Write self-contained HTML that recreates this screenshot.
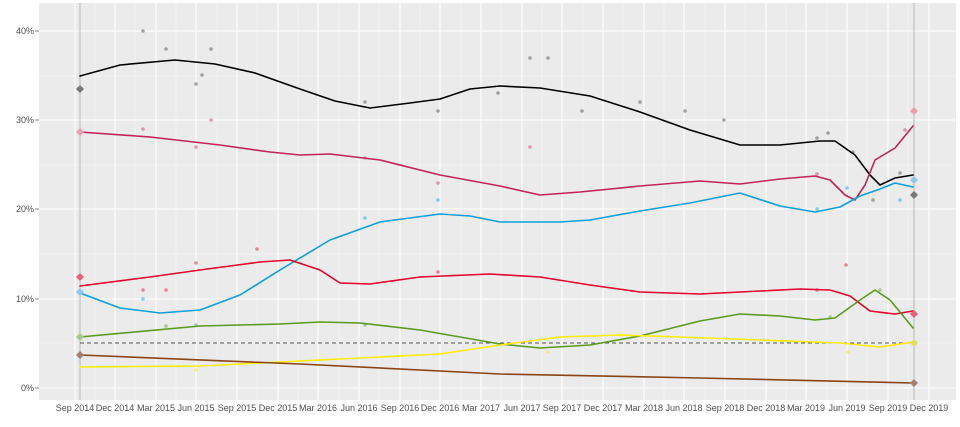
<!DOCTYPE html>
<html><head><meta charset="utf-8"><style>body{margin:0;background:#fff}svg{display:block}text{font-family:"Liberation Sans",sans-serif;font-size:9px;fill:#4d4d4d}</style></head><body>
<svg width="960" height="427" viewBox="0 0 960 427">
<rect x="39" y="3" width="917" height="397" fill="#ebebeb"/>
<g stroke="#f5f5f5" stroke-width="0.6">
<line x1="39" x2="956" y1="76" y2="76"/><line x1="39" x2="956" y1="165" y2="165"/><line x1="39" x2="956" y1="254" y2="254"/><line x1="39" x2="956" y1="343" y2="343"/>
<line x1="95" x2="95" y1="3" y2="400"/><line x1="135" x2="135" y1="3" y2="400"/><line x1="176" x2="176" y1="3" y2="400"/><line x1="217" x2="217" y1="3" y2="400"/><line x1="257" x2="257" y1="3" y2="400"/><line x1="298" x2="298" y1="3" y2="400"/><line x1="339" x2="339" y1="3" y2="400"/><line x1="379" x2="379" y1="3" y2="400"/><line x1="420" x2="420" y1="3" y2="400"/><line x1="461" x2="461" y1="3" y2="400"/><line x1="501" x2="501" y1="3" y2="400"/><line x1="542" x2="542" y1="3" y2="400"/><line x1="583" x2="583" y1="3" y2="400"/><line x1="623" x2="623" y1="3" y2="400"/><line x1="664" x2="664" y1="3" y2="400"/><line x1="705" x2="705" y1="3" y2="400"/><line x1="745" x2="745" y1="3" y2="400"/><line x1="786" x2="786" y1="3" y2="400"/><line x1="827" x2="827" y1="3" y2="400"/><line x1="867" x2="867" y1="3" y2="400"/><line x1="908" x2="908" y1="3" y2="400"/>
</g>
<g stroke="#fff" stroke-width="1.1">
<line x1="39" x2="956" y1="31" y2="31"/><line x1="39" x2="956" y1="120" y2="120"/><line x1="39" x2="956" y1="209" y2="209"/><line x1="39" x2="956" y1="299" y2="299"/><line x1="39" x2="956" y1="388" y2="388"/>
<line x1="75" x2="75" y1="3" y2="400"/><line x1="115" x2="115" y1="3" y2="400"/><line x1="156" x2="156" y1="3" y2="400"/><line x1="196" x2="196" y1="3" y2="400"/><line x1="237" x2="237" y1="3" y2="400"/><line x1="278" x2="278" y1="3" y2="400"/><line x1="318" x2="318" y1="3" y2="400"/><line x1="359" x2="359" y1="3" y2="400"/><line x1="400" x2="400" y1="3" y2="400"/><line x1="440" x2="440" y1="3" y2="400"/><line x1="481" x2="481" y1="3" y2="400"/><line x1="522" x2="522" y1="3" y2="400"/><line x1="562" x2="562" y1="3" y2="400"/><line x1="603" x2="603" y1="3" y2="400"/><line x1="644" x2="644" y1="3" y2="400"/><line x1="684" x2="684" y1="3" y2="400"/><line x1="725" x2="725" y1="3" y2="400"/><line x1="766" x2="766" y1="3" y2="400"/><line x1="806" x2="806" y1="3" y2="400"/><line x1="847" x2="847" y1="3" y2="400"/><line x1="888" x2="888" y1="3" y2="400"/><line x1="929" x2="929" y1="3" y2="400"/>
</g>
<line x1="80" x2="80" y1="3" y2="400" stroke="#aaa" stroke-width="0.8"/>
<line x1="914" x2="914" y1="3" y2="400" stroke="#aaa" stroke-width="0.8"/>
<line x1="80" x2="914" y1="343" y2="343" stroke="#222" stroke-width="0.8" stroke-dasharray="4,3"/>
<g opacity="0.45">
<circle cx="143" cy="31" r="1.8" fill="#444"/><circle cx="166" cy="49" r="1.8" fill="#444"/><circle cx="196" cy="84" r="1.8" fill="#444"/><circle cx="211" cy="49" r="1.8" fill="#444"/><circle cx="202" cy="75" r="1.8" fill="#444"/><circle cx="365" cy="102" r="1.8" fill="#444"/><circle cx="438" cy="111" r="1.8" fill="#444"/><circle cx="498" cy="93" r="1.8" fill="#444"/><circle cx="530" cy="58" r="1.8" fill="#444"/><circle cx="548" cy="58" r="1.8" fill="#444"/><circle cx="582" cy="111" r="1.8" fill="#444"/><circle cx="640" cy="102" r="1.8" fill="#444"/><circle cx="685" cy="111" r="1.8" fill="#444"/><circle cx="724" cy="120" r="1.8" fill="#444"/><circle cx="817" cy="138" r="1.8" fill="#444"/><circle cx="828" cy="133" r="1.8" fill="#444"/><circle cx="853" cy="152" r="1.8" fill="#444"/><circle cx="873" cy="200" r="1.8" fill="#444"/><circle cx="900" cy="173" r="1.8" fill="#444"/>
<circle cx="143" cy="129" r="1.8" fill="#c03060"/><circle cx="196" cy="147" r="1.8" fill="#c03060"/><circle cx="211" cy="120" r="1.8" fill="#c03060"/><circle cx="365" cy="158" r="1.8" fill="#c03060"/><circle cx="438" cy="183" r="1.8" fill="#c03060"/><circle cx="530" cy="147" r="1.8" fill="#c03060"/><circle cx="817" cy="174" r="1.8" fill="#c03060"/><circle cx="905" cy="130" r="1.8" fill="#c03060"/>
<circle cx="143" cy="299" r="1.8" fill="#00a0e0"/><circle cx="365" cy="218" r="1.8" fill="#00a0e0"/><circle cx="438" cy="200" r="1.8" fill="#00a0e0"/><circle cx="817" cy="209" r="1.8" fill="#00a0e0"/><circle cx="847" cy="188" r="1.8" fill="#00a0e0"/><circle cx="900" cy="200" r="1.8" fill="#00a0e0"/>
<circle cx="143" cy="290" r="1.8" fill="#e4002b"/><circle cx="166" cy="290" r="1.8" fill="#e4002b"/><circle cx="196" cy="263" r="1.8" fill="#e4002b"/><circle cx="257" cy="249" r="1.8" fill="#e4002b"/><circle cx="438" cy="272" r="1.8" fill="#e4002b"/><circle cx="817" cy="290" r="1.8" fill="#e4002b"/><circle cx="846" cy="265" r="1.8" fill="#e4002b"/>
<circle cx="166" cy="326" r="1.8" fill="#5a9a20"/><circle cx="196" cy="325" r="1.8" fill="#5a9a20"/><circle cx="365" cy="325" r="1.8" fill="#5a9a20"/><circle cx="830" cy="317" r="1.8" fill="#5a9a20"/><circle cx="880" cy="290" r="1.8" fill="#5a9a20"/>
<circle cx="196" cy="370" r="1.8" fill="#ffe000"/><circle cx="548" cy="352" r="1.8" fill="#ffe000"/><circle cx="848" cy="352" r="1.8" fill="#ffe000"/>
</g>
<g fill="none" stroke-width="1.6" stroke-linejoin="round" stroke-linecap="round">
<polyline stroke="#000" points="80,76 120,65 175,60 215,64 255,73 300,89 335,101 370,108 410,103 440,99 470,89 500,86 540,88 590,96 640,112 690,130 740,145 780,145 820,141 835,141 855,155 870,175 880,185 895,178 913,175"/>
<polyline stroke="#c0245c" points="80,132 150,137 220,145 270,152 300,155 330,154 380,160 440,175 500,186 540,195 580,192 640,186 700,181 740,184 780,179 815,176 830,180 845,195 855,200 865,185 875,160 895,148 913,126"/>
<polyline stroke="#0ea0db" points="80,293 120,308 160,313 200,310 240,295 280,270 330,240 380,222 440,214 470,216 500,222 560,222 590,220 640,211 690,203 740,193 780,206 815,212 840,207 860,196 880,189 895,183 913,187"/>
<polyline stroke="#e4002b" points="80,286 150,277 200,270 260,262 290,260 320,270 340,283 370,284 420,277 490,274 540,277 590,285 640,292 700,294 760,291 800,289 830,290 850,296 870,311 895,314 913,311"/>
<polyline stroke="#5a9a20" points="80,337 200,326 280,324 320,322 360,323 420,330 500,344 540,348 590,345 640,336 700,321 740,314 780,316 815,320 835,318 860,300 875,290 890,300 900,312 913,328"/>
<polyline stroke="#ffec00" points="80,367 200,366 280,362 360,358 440,354 500,345 560,337 620,335 680,337 760,340 840,343 880,347 913,342"/>
<polyline stroke="#8b4513" points="80,355 300,364 500,374 700,378 913,383"/>
</g>
<g>
<path d="M80,85l4,4-4,4-4-4z" fill="#777"/><path d="M80,128l4,4-4,4-4-4z" fill="#e8a0b0"/><path d="M80,273l4,4-4,4-4-4z" fill="#e8607a"/><path d="M80,288l4,4-4,4-4-4z" fill="#90c8e8"/><path d="M80,333l4,4-4,4-4-4z" fill="#a8c890"/><path d="M80,351l4,4-4,4-4-4z" fill="#a08070"/>
<path d="M914,107l4,4-4,4-4-4z" fill="#e8a0b0"/><path d="M914,191l4,4-4,4-4-4z" fill="#777"/><path d="M914,176l4,4-4,4-4-4z" fill="#90c8e8"/><path d="M914,310l4,4-4,4-4-4z" fill="#e8607a"/><path d="M914,339l4,4-4,4-4-4z" fill="#e0e060"/><path d="M914,379l4,4-4,4-4-4z" fill="#a08070"/>
</g>
<g text-anchor="end">
<text x="34" y="34">40%</text><text x="34" y="123">30%</text><text x="34" y="212">20%</text><text x="34" y="302">10%</text><text x="34" y="391">0%</text>
</g>
<g stroke="#333" stroke-width="0.6"><line x1="35" x2="39" y1="31" y2="31"/><line x1="35" x2="39" y1="120" y2="120"/><line x1="35" x2="39" y1="209" y2="209"/><line x1="35" x2="39" y1="299" y2="299"/><line x1="35" x2="39" y1="388" y2="388"/></g>
<g text-anchor="middle">
<text x="75" y="411">Sep 2014</text><text x="115" y="411">Dec 2014</text><text x="156" y="411">Mar 2015</text><text x="196" y="411">Jun 2015</text><text x="237" y="411">Sep 2015</text><text x="278" y="411">Dec 2015</text><text x="318" y="411">Mar 2016</text><text x="359" y="411">Jun 2016</text><text x="400" y="411">Sep 2016</text><text x="440" y="411">Dec 2016</text><text x="481" y="411">Mar 2017</text><text x="522" y="411">Jun 2017</text><text x="562" y="411">Sep 2017</text><text x="603" y="411">Dec 2017</text><text x="644" y="411">Mar 2018</text><text x="684" y="411">Jun 2018</text><text x="725" y="411">Sep 2018</text><text x="766" y="411">Dec 2018</text><text x="806" y="411">Mar 2019</text><text x="847" y="411">Jun 2019</text><text x="888" y="411">Sep 2019</text><text x="929" y="411">Dec 2019</text>
</g>
</svg>
</body></html>
